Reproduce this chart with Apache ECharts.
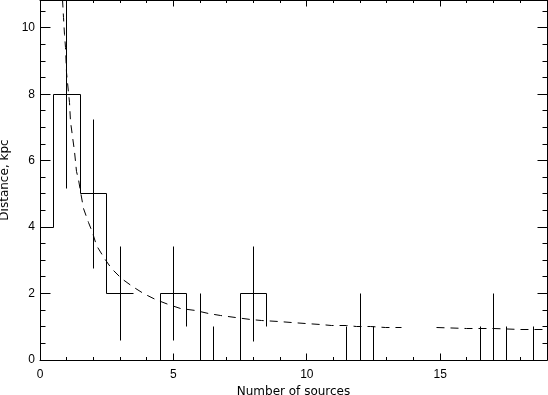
<!DOCTYPE html>
<html><head><meta charset="utf-8">
<script src="https://cdn.jsdelivr.net/npm/echarts@6/dist/echarts.min.js"></script>
<style>html,body{margin:0;padding:0;background:#fff}#c{width:548px;height:395px}</style>
</head><body><div id="c"></div>
<script>
// ---- data ----
const xTickLabels = ['0', '5', '10', '15'];
const yTickLabels = ['0', '2', '4', '6', '8', '10'];
const xMajorTicks = [0, 5, 10, 15];
const xMinorTicks = [1, 2, 3, 4, 6, 7, 8, 9, 11, 12, 13, 14, 16, 17, 18];
const yMajorTicks = [0, 2, 4, 6, 8, 10];
const yMinorTicks = [0.5, 1, 1.5, 2.5, 3, 3.5, 4.5, 5, 5.5, 6.5, 7, 7.5, 8.5, 9, 9.5, 10.5];
const xName = 'Number of sources';
const yName = 'Distance, kpc';

// histogram outline as drawn (null = break between drawn pieces)
const histX = [0, 0.5, 0.5, 1.5, 1.5, 2.5, 2.5, 3.5, null, 4.5, 4.5, 5.5, 5.5, null, 6.5, 6.5, null, 7.5, 7.5, 8.5, 8.5, null, 11.5, 11.5, null, 12.5, 12.5, null, 16.5, 16.5, null, 17.5, 17.5, null, 18.5, 18.5];
const histY = [4, 4, 8, 8, 5, 5, 2, 2, null, 0, 2, 2, 1, null, 1, 0, null, 0, 2, 2, 1, null, 1, 0, null, 1, 0, null, 1, 0, null, 1, 0, null, 1, 0];

// error bars
const errX = [1, 2, 3, 5, 6, 8, 12, 17];
const errLow = [5.17, 2.76, 0.59, 0.59, 0, 0.57, 0, 0];
const errHigh = [10.84, 7.24, 3.41, 3.41, 2, 3.41, 2, 2];

// dashed curve
const curveX = [0.83, 0.87, 0.91, 0.94, 1.0, 1.1, 1.16, 1.29, 1.38, 1.44, 1.52, 1.64, 1.8, 1.95, 2.11, 2.4, 2.68, 3.05, 3.45, 3.87, 4.31, 4.81, 5.25, 5.81, 6.31, 6.75, 7.31, 7.87, 8.31, 8.94, 9.44, 9.94, 10.5, 10.94, 11.5, 11.87, 12.37, 12.94, 13.56, null, 14.87, 16, 17, 18, 19];
const curveY = [10.84, 10.3, 9.79, 9.4, 8.67, 7.74, 7.17, 6.27, 5.69, 5.42, 5.07, 4.55, 4.15, 3.85, 3.46, 3.07, 2.77, 2.44, 2.21, 2.01, 1.81, 1.68, 1.56, 1.48, 1.39, 1.34, 1.27, 1.21, 1.19, 1.15, 1.12, 1.10, 1.07, 1.05, 1.03, 1.02, 1.01, 0.99, 0.98, null, 0.97, 0.95, 0.94, 0.93, 0.92];

const X_MIN = 0, X_MAX = 19, Y_MIN = 0, Y_MAX = 10.84;

// ---- build pieces ----
function pieces(xs, ys) {
  const out = []; let cur = [];
  for (let i = 0; i < xs.length; i++) {
    if (xs[i] === null) { if (cur.length) out.push(cur); cur = []; }
    else cur.push([xs[i], ys[i]]);
  }
  if (cur.length) out.push(cur);
  return out;
}
const histPieces = pieces(histX, histY);
const errPieces = errX.map((x, i) => [[x, errLow[i]], [x, errHigh[i]]]);
const curvePieces = pieces(curveX, curveY);

function snap(p) { return [Math.round(p[0] - 0.5) + 0.5, Math.round(p[1] - 0.5) + 0.5]; }
function polySeries(list, dash) {
  return {
    type: 'custom', xAxisIndex: 0, yAxisIndex: 0, silent: true,
    data: list.map((s, i) => [s[0][0], s[0][1], i]),
    renderItem: function (params, api) {
      const seg = list[params.dataIndex];
      const pts = seg.map(p => snap(api.coord(p)));
      return { type: 'polyline', shape: { points: pts },
        style: { stroke: '#000', lineWidth: 1, fill: null, lineDash: dash || null } };
    }
  };
}

// inward ticks on all four sides (positions from the axis scales)
const tickSpecs = [];
xMajorTicks.forEach(v => { tickSpecs.push({ side: 'b', v, len: 7 }); tickSpecs.push({ side: 't', v, len: 7 }); });
xMinorTicks.forEach(v => { tickSpecs.push({ side: 'b', v, len: 3.5 }); tickSpecs.push({ side: 't', v, len: 3.5 }); });
yMajorTicks.forEach(v => { tickSpecs.push({ side: 'l', v, len: 10 }); tickSpecs.push({ side: 'r', v, len: 10 }); });
yMinorTicks.forEach(v => { tickSpecs.push({ side: 'l', v, len: 5 }); tickSpecs.push({ side: 'r', v, len: 5 }); });
const tickSeries = {
  type: 'custom', xAxisIndex: 0, yAxisIndex: 0, silent: true,
  data: tickSpecs.map((t, i) => [0, 0, i]),
  renderItem: function (params, api) {
    const t = tickSpecs[params.dataIndex];
    let a, b;
    if (t.side === 'b') { a = snap(api.coord([t.v, Y_MIN])); b = [a[0], a[1] - t.len]; }
    else if (t.side === 't') { a = snap(api.coord([t.v, Y_MAX])); b = [a[0], a[1] + t.len]; }
    else if (t.side === 'l') { a = snap(api.coord([X_MIN, t.v])); b = [a[0] + t.len, a[1]]; }
    else { a = snap(api.coord([X_MAX, t.v])); b = [a[0] - t.len, a[1]]; }
    return { type: 'line', shape: { x1: a[0], y1: a[1], x2: b[0], y2: b[1] },
      style: { stroke: '#000', lineWidth: 1 } };
  }
};

const numFont = 'Liberation Sans';
const nameFont = 'DejaVu Sans';
const lab = { color: '#000', fontFamily: numFont, fontSize: 12 };
const lineStyle = { color: '#000', width: 1 };

const chart = echarts.init(document.getElementById('c'), null, { renderer: 'canvas' });
chart.setOption({
  backgroundColor: '#fff',
  animation: false,
  grid: { left: 40, right: 1, top: 0, bottom: 35, containLabel: false, outerBoundsMode: 'none' },
  xAxis: [
    {
      type: 'value', min: X_MIN, max: X_MAX, interval: 5, position: 'bottom',
      axisLine: { show: true, onZero: false, lineStyle },
      axisTick: { show: false },
      axisLabel: Object.assign({ show: true, margin: 9,
        formatter: v => xTickLabels.indexOf(String(v)) >= 0 ? String(v) : '' }, lab),
      splitLine: { show: false },
      name: xName, nameLocation: 'middle', nameGap: 23,
      nameTextStyle: { color: '#000', fontFamily: nameFont, fontSize: 12 }
    },
    {
      type: 'value', min: X_MIN, max: X_MAX, position: 'top',
      axisLine: { show: true, onZero: false, lineStyle },
      axisTick: { show: false }, axisLabel: { show: false }, splitLine: { show: false }
    }
  ],
  yAxis: [
    {
      type: 'value', min: Y_MIN, max: Y_MAX, interval: 2, position: 'left',
      axisLine: { show: true, onZero: false, lineStyle },
      axisTick: { show: false },
      axisLabel: Object.assign({ show: true, margin: 5,
        formatter: v => yTickLabels.indexOf(String(v)) >= 0 ? String(v) : '' }, lab),
      splitLine: { show: false },
      name: yName, nameLocation: 'middle', nameGap: 27, nameRotate: 90,
      nameTextStyle: { color: '#000', fontFamily: nameFont, fontSize: 12 }
    },
    {
      type: 'value', min: Y_MIN, max: Y_MAX, position: 'right',
      axisLine: { show: true, onZero: false, lineStyle },
      axisTick: { show: false }, axisLabel: { show: false }, splitLine: { show: false }
    }
  ],
  series: [
    tickSeries,
    polySeries(histPieces),
    polySeries(errPieces),
    polySeries(curvePieces, [8, 6])
  ]
});
</script>
</body></html>
